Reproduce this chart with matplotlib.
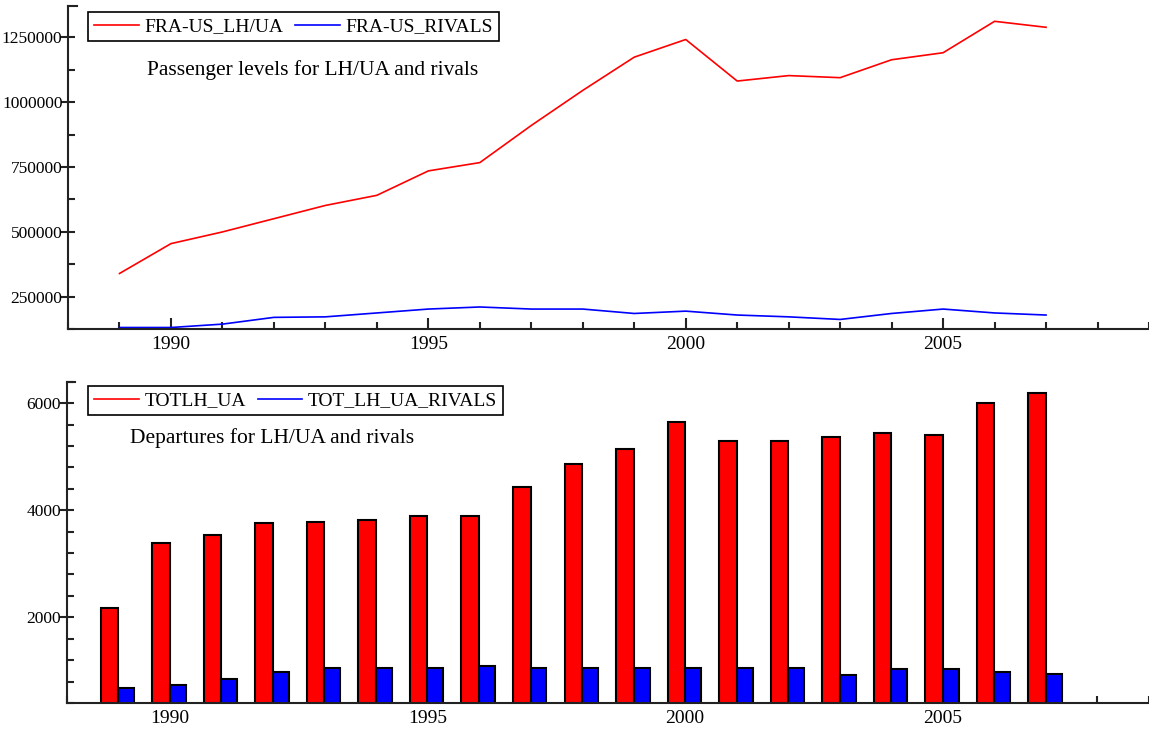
import numpy as np
import matplotlib
matplotlib.use("Agg")
import matplotlib.pyplot as plt
from matplotlib.ticker import MultipleLocator, FormatStrFormatter

plt.rcParams['font.family'] = ['Liberation Serif', 'DejaVu Serif']

years = np.arange(1989, 2008)

# passengers, FRA-US
pax_lhua = [340000, 455000, 500000, 551000, 602000, 641000, 735000, 767000, 910000,
            1045000, 1173000, 1241000, 1081000, 1102000, 1094000, 1163000, 1190000,
            1311000, 1288000]
pax_rivals = [132000, 132000, 145000, 171000, 173000, 188000, 203000, 211000, 203000,
              203000, 186000, 195000, 180000, 173000, 163000, 186000, 203000,
              188000, 180000]

# departures
dep_lhua = [2179, 3383, 3538, 3757, 3787, 3818, 3899, 3899, 4430, 4871, 5140, 5656,
            5295, 5295, 5364, 5444, 5401, 5999, 6187]
dep_rivals = [684, 735, 841, 983, 1058, 1058, 1058, 1096, 1058, 1058, 1058, 1058,
              1058, 1058, 916, 1028, 1028, 983, 946]


def style_axes(ax):
    for s in ['top', 'right']:
        ax.spines[s].set_visible(False)
    for s in ['left', 'bottom']:
        ax.spines[s].set_linewidth(1.5)
        ax.spines[s].set_color('#222222')
    ax.set_xlim(1988, 2009)
    ax.xaxis.set_major_locator(MultipleLocator(5))
    ax.xaxis.set_minor_locator(MultipleLocator(1))
    ax.yaxis.set_major_formatter(FormatStrFormatter('%d'))
    ax.tick_params(axis='x', which='major', direction='in', length=8, width=1.5, pad=5,
                   labelsize=14, color='#222222')
    ax.tick_params(axis='x', which='minor', direction='in', length=5, width=1.5,
                   color='#222222')
    ax.tick_params(axis='y', which='major', direction='inout', length=10, width=1.5,
                   pad=-1, labelsize=12.5, color='#222222')
    ax.tick_params(axis='y', which='minor', direction='in', length=5, width=1.5,
                   color='#222222')
    # little cap at the top of the y axis
    ax.plot([0, 0.008], [1, 1], transform=ax.transAxes, color='#222222', lw=1.5,
            clip_on=False, zorder=0.5)


fig = plt.figure(figsize=(11.49, 7.31), dpi=100)

# top: passenger levels
ax1 = fig.add_axes([0.0592, 0.5495, 0.9408, 0.4423])
ax1.plot(years, pax_lhua, color='red', lw=1.2, label='FRA-US_LH/UA')
ax1.plot(years, pax_rivals, color='blue', lw=1.2, label='FRA-US_RIVALS')
style_axes(ax1)
ax1.set_ylim(125000, 1370000)
ax1.yaxis.set_major_locator(MultipleLocator(250000))
ax1.yaxis.set_minor_locator(MultipleLocator(125000))
leg = ax1.legend(loc='upper left', bbox_to_anchor=(0.0185, 0.981), borderaxespad=0,
                 ncol=2, fontsize=14, fancybox=False, edgecolor='black', framealpha=1,
                 borderpad=0.3, handlelength=2.3, handletextpad=0.3, columnspacing=0.6)
leg.get_frame().set_linewidth(1.2)
ax1.text(0.073, 0.802, 'Passenger levels for LH/UA and rivals', transform=ax1.transAxes,
         fontsize=15.5, va='center', ha='left')

# bottom: departures
ax2 = fig.add_axes([0.058, 0.0379, 0.942, 0.44])
w = 0.34
ax2.bar(years - w, dep_lhua, width=w, align='edge', color='red', edgecolor='black',
        linewidth=1.5, label='TOTLH_UA')
ax2.bar(years, dep_rivals, width=0.31, align='edge', color='blue', edgecolor='black',
        linewidth=1.5, label='TOT_LH_UA_RIVALS')
style_axes(ax2)
ax2.set_axisbelow(True)
ax2.set_ylim(393, 6404)
ax2.yaxis.set_major_locator(MultipleLocator(2000))
ax2.yaxis.set_minor_locator(MultipleLocator(400))
h = [plt.Line2D([], [], color='red', lw=1.2), plt.Line2D([], [], color='blue', lw=1.2)]
leg2 = ax2.legend(h, ['TOTLH_UA', 'TOT_LH_UA_RIVALS'], loc='upper left',
                  bbox_to_anchor=(0.0197, 0.9866), borderaxespad=0, ncol=2, fontsize=14,
                  fancybox=False, edgecolor='black', framealpha=1, borderpad=0.3,
                  handlelength=2.3, handletextpad=0.3, columnspacing=0.6)
leg2.get_frame().set_linewidth(1.2)
ax2.text(0.0585, 0.825, 'Departures for LH/UA and rivals', transform=ax2.transAxes,
         fontsize=15.5, va='center', ha='left')

fig.savefig('out.png', dpi=100)
